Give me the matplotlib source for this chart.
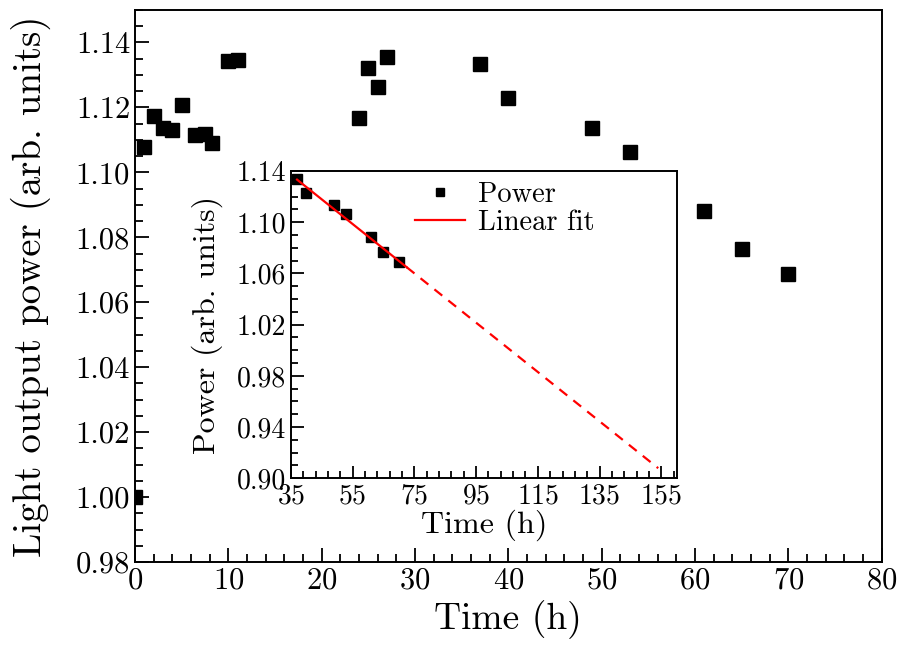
import numpy as np
import matplotlib
matplotlib.use("Agg")
from matplotlib import pyplot as plt
from matplotlib.ticker import FixedLocator, FormatStrFormatter

plt.rcParams['font.family'] = ['cmr10', 'DejaVu Serif']
plt.rcParams['mathtext.fontset'] = 'cm'
plt.rcParams['axes.formatter.use_mathtext'] = True

# data (time in h, light output power in arb. units)
time_h = [0, 1, 2, 3, 4, 5, 6.4, 7.5, 8.2, 10, 11,
          24, 25, 26, 27, 37, 40, 49, 53, 61, 65, 70]
power = [1.000, 1.1077, 1.1175, 1.1137, 1.1129, 1.1209, 1.1115, 1.1117, 1.1089, 1.1342, 1.1345,
         1.1166, 1.1320, 1.1262, 1.1354, 1.1335, 1.1228, 1.1136, 1.1062, 1.0882, 1.0765, 1.0686]

# inset: the degradation part used for the linear fit
fit_start = 37
solid_end = 72.5
dash_end = 154

fig = plt.figure(figsize=(9.09, 6.46), dpi=100)
ax = fig.add_axes([0.1485, 0.130, 0.8215, 0.8545])

ax.plot(time_h, power, 's', color='black', markersize=9.5, linestyle='none')
ax.set_xlim(0, 80)
ax.set_ylim(0.98, 1.15)
ax.xaxis.set_major_locator(FixedLocator(np.arange(0, 81, 10)))
ax.xaxis.set_minor_locator(FixedLocator(np.arange(0, 81, 2)))
ax.yaxis.set_major_locator(FixedLocator(np.arange(0.98, 1.141, 0.02)))
ax.yaxis.set_minor_locator(FixedLocator(np.arange(0.98, 1.151, 0.005)))
ax.yaxis.set_major_formatter(FormatStrFormatter('%.2f'))
ax.tick_params(which='both', direction='in', top=False, right=False, labelsize=22, width=1.3)
ax.tick_params(which='major', length=10)
ax.tick_params(which='minor', length=5.5)
for s in ax.spines.values():
    s.set_linewidth(1.4)
ax.set_xlabel('Time (h)', fontsize=27, labelpad=4)
ax.set_ylabel('Light output power (arb. units)', fontsize=28, labelpad=18)

# inset
t = np.array(time_h)
p = np.array(power)
sel = t >= fit_start
k, b = np.polyfit(t[sel], p[sel], 1)

ins = fig.add_axes([0.320, 0.2596, 0.4245, 0.4757])
ins.plot(t[sel], p[sel], 's', color='black', markersize=7, linestyle='none', label='Power')
xs = np.array([fit_start, solid_end])
ins.plot(xs, k * xs + b, '-', color='red', lw=1.6, label='Linear fit')
xd = np.array([solid_end, dash_end])
ins.plot(xd, k * xd + b, '--', color='red', lw=1.6, dashes=(4.5, 3.5))
ins.set_xlim(35, 160)
ins.set_ylim(0.90, 1.14)
ins.xaxis.set_major_locator(FixedLocator(np.arange(35, 156, 20)))
ins.xaxis.set_minor_locator(FixedLocator(np.arange(35, 160, 4)))
ins.yaxis.set_major_locator(FixedLocator(np.arange(0.90, 1.141, 0.04)))
ins.yaxis.set_minor_locator(FixedLocator(np.arange(0.90, 1.141, 0.01)))
ins.yaxis.set_major_formatter(FormatStrFormatter('%.2f'))
ins.tick_params(which='both', direction='in', top=False, right=False, labelsize=20, width=1.3)
ins.tick_params(which='major', length=9)
ins.tick_params(which='minor', length=5)
for s in ins.spines.values():
    s.set_linewidth(1.4)
ins.set_xlabel('Time (h)', fontsize=23, labelpad=0)
ins.set_ylabel('Power (arb. units)', fontsize=23, labelpad=10)
ins.legend(loc='upper left', bbox_to_anchor=(0.27, 1.03), frameon=False, fontsize=20.5,
           handlelength=1.75, handletextpad=0.45, labelspacing=0.05, borderpad=0.2, markerscale=0.85)

fig.savefig('out.png', dpi=100)
